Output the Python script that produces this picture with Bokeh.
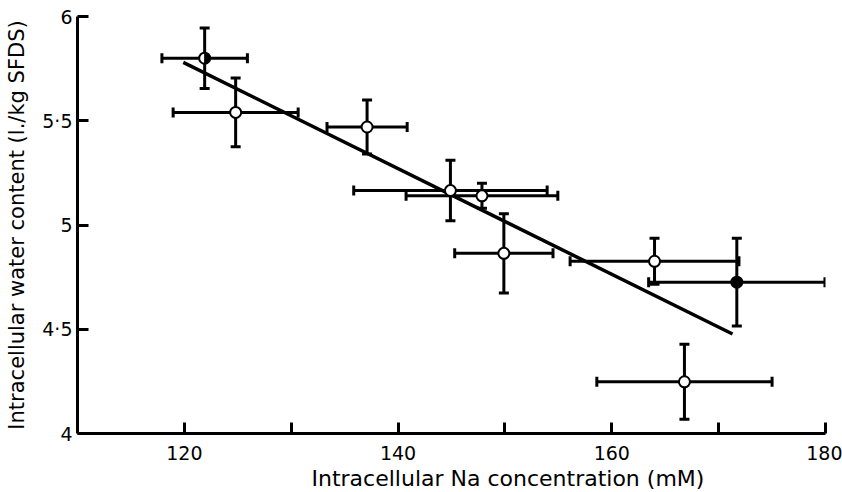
import math
from bokeh.plotting import figure
from bokeh.models import (ColumnDataSource, Range1d, FixedTicker, Whisker, TeeHead, Title)
from bokeh.embed import file_html
from bokeh.resources import INLINE

# Data
na_conc = [121.9, 124.8, 137.1, 144.9, 147.85, 149.9, 164.0, 171.7, 166.8]
na_err = [4.0, 5.85, 3.75, 9.05, 7.1, 4.6, 7.9, 8.25, 8.2]
water = [5.80, 5.54, 5.47, 5.165, 5.14, 4.864, 4.826, 4.726, 4.248]
water_err = [0.145, 0.165, 0.13, 0.145, 0.06, 0.19, 0.11, 0.21, 0.18]
marker_kind = ["half", "open", "open", "open", "open", "open", "open", "filled", "open"]

fit_x = [119.9, 171.3]
fit_y = [5.78, 4.477]

x_ticks = [120, 130, 140, 150, 160, 170, 180]
x_tick_labels = {120: "120", 130: "", 140: "140", 150: "", 160: "160", 170: "", 180: "180"}
y_ticks = [4, 4.5, 5, 5.5, 6]
y_tick_labels = {4: "4", 4.5: "4·5", 5: "5", 5.5: "5·5", 6: "6"}

x_title = "Intracellular Na concentration (mM)"
y_title = "Intracellular water content (l./kg SFDS)"

FONT = "DejaVu Sans"

src = ColumnDataSource(dict(
    x=na_conc, y=water,
    xl=[a - e for a, e in zip(na_conc, na_err)],
    xu=[a + e for a, e in zip(na_conc, na_err)],
    yl=[a - e for a, e in zip(water, water_err)],
    yu=[a + e for a, e in zip(water, water_err)],
    fill=["black" if k == "filled" else "white" for k in marker_kind],
))

p = figure(width=842, height=492, output_backend="svg", toolbar_location=None,
           x_range=Range1d(110, 180), y_range=Range1d(4, 6),
           min_border_left=77, min_border_right=17, min_border_top=16, min_border_bottom=57)
p.outline_line_color = None
p.xgrid.grid_line_color = None
p.ygrid.grid_line_color = None
p.background_fill_color = "white"
p.border_fill_color = "white"

for ax, ticks, labels in ((p.xaxis[0], x_ticks, x_tick_labels), (p.yaxis[0], y_ticks, y_tick_labels)):
    ax.ticker = FixedTicker(ticks=ticks)
    ax.major_label_overrides = labels
    ax.minor_tick_line_color = None
    ax.axis_line_width = 3
    ax.major_tick_line_width = 3
    ax.major_tick_in = 11
    ax.major_tick_out = 0
    ax.major_label_text_font = FONT
    ax.major_label_text_font_size = "19px"
    ax.major_label_text_color = "black"
    ax.axis_line_color = "black"
    ax.major_tick_line_color = "black"

p.xaxis.major_label_standoff = 12
p.yaxis.major_label_text_align = "left"
p.yaxis.major_label_standoff = 5

p.yaxis.axis_label = y_title
p.yaxis.axis_label_text_font = FONT
p.yaxis.axis_label_text_font_size = "21px"
p.yaxis.axis_label_text_font_style = "normal"
p.yaxis.axis_label_text_color = "black"
p.yaxis.axis_label_standoff = 10

# fitted regression line
p.line(fit_x, fit_y, line_width=3.5, color="black")

# error bars
head = dict(size=10, line_width=3, line_color="black")
p.add_layout(Whisker(source=src, base="y", lower="xl", upper="xu", dimension="width",
                     line_width=3, line_color="black",
                     lower_head=TeeHead(**head), upper_head=TeeHead(**head)))
p.add_layout(Whisker(source=src, base="x", lower="yl", upper="yu", dimension="height",
                     line_width=3, line_color="black",
                     lower_head=TeeHead(**head), upper_head=TeeHead(**head)))

# markers
p.scatter("x", "y", source=src, size=11, fill_color="fill", line_color="black", line_width=2)
half_x = [a for a, k in zip(na_conc, marker_kind) if k == "half"]
half_y = [a for a, k in zip(water, marker_kind) if k == "half"]
p.wedge(half_x, half_y, radius=5.5, radius_units="screen", start_angle=-math.pi / 2,
        end_angle=math.pi / 2, fill_color="black", line_color="black")

p.add_layout(Title(text=x_title, align="left", offset=234, standoff=3,
                   text_font=FONT, text_font_size="22px", text_font_style="normal",
                   text_color="black"), "below")

open("out.html", "w").write(file_html(p, INLINE))
